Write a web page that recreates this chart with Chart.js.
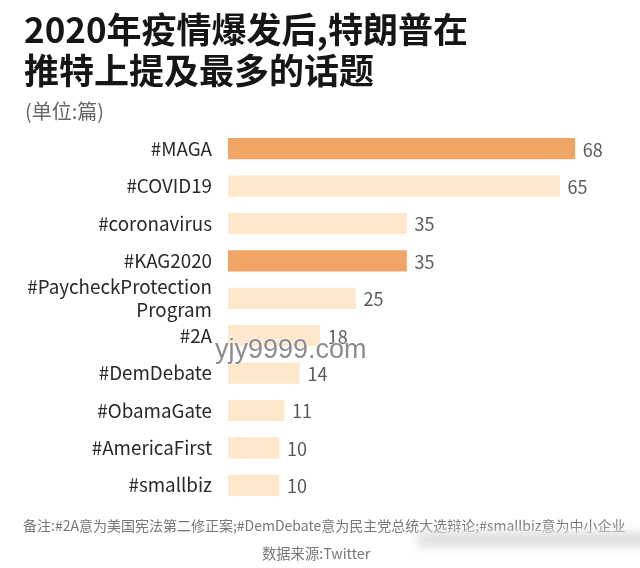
<!DOCTYPE html>
<html lang="zh">
<head>
<meta charset="utf-8">
<script src="https://cdn.jsdelivr.net/npm/chart.js@4/dist/chart.umd.min.js"></script>
<style>
html,body{margin:0;padding:0;background:#fff;}
#wrap{position:relative;width:640px;height:568px;overflow:hidden;font-family:"Noto Sans CJK SC","Noto Sans",sans-serif;}
#c{position:absolute;left:0;top:0;}
.t{position:absolute;white-space:nowrap;}
#title{left:24px;top:7px;font-size:35px;line-height:41px;font-weight:700;color:#161616;}
#unit{left:25px;top:98px;font-size:20px;line-height:26px;color:#666;}
#note{left:23px;top:514px;font-size:14px;line-height:22px;color:#777;}
#source{left:262px;top:542px;font-size:14.3px;line-height:22px;color:#777;}
#mark{left:215px;top:331px;font-family:"Liberation Sans",sans-serif;font-size:27px;line-height:36px;color:#8c8c8c;text-shadow:0 0 2px #fff,0 0 2px #fff;}
#smudge{position:absolute;left:418px;top:531px;width:235px;height:16px;background:#e2e2e2;filter:blur(4px);}
</style>
</head>
<body>
<div id="wrap">
<canvas id="c" width="640" height="568"></canvas>
<div class="t" id="title">2020年疫情爆发后,特朗普在<br>推特上提及最多的话题</div>
<div class="t" id="unit">(单位:篇)</div>
<div class="t" id="note">备注:#2A意为美国宪法第二修正案;#DemDebate意为民主党总统大选辩论;#smallbiz意为中小企业</div>
<div id="smudge"></div>
<div class="t" id="source">数据来源:Twitter</div>
<div class="t" id="mark">yjy9999.com</div>
</div>
<script>
const categories = ["#MAGA","#COVID19","#coronavirus","#KAG2020",["#PaycheckProtection","Program"],"#2A","#DemDebate","#ObamaGate","#AmericaFirst","#smallbiz"];
const values = [68,65,35,35,25,18,14,11,10,10];
const highlighted = ["#MAGA","#KAG2020"];
const strongColor = "#f0a566";
const lightColor = "#fde8cb";
const axisMax = 80;

const valueLabels = {
  id:"valueLabels",
  afterDatasetsDraw(chart){
    const {ctx} = chart;
    const meta = chart.getDatasetMeta(0);
    ctx.save();
    ctx.font = '18px "Noto Sans CJK SC"';
    ctx.fillStyle = "#5a5a5a";
    ctx.textAlign = "left";
    ctx.textBaseline = "middle";
    meta.data.forEach((bar,i)=>ctx.fillText(String(values[i]),bar.x+8,bar.y+1));
    ctx.restore();
  }
};

Chart.defaults.font.family = '"Noto Sans CJK SC"';
new Chart(document.getElementById("c"),{
  type:"bar",
  data:{
    labels:categories,
    datasets:[{
      data:values,
      backgroundColor:categories.map(c=>highlighted.includes(c)?strongColor:lightColor),
      barThickness:20.5,
      borderWidth:0
    }]
  },
  options:{
    indexAxis:"y",
    responsive:false,
    animation:false,
    layout:{padding:{top:130,bottom:64,left:0,right:4}},
    plugins:{legend:{display:false},tooltip:{enabled:false},title:{display:false}},
    scales:{
      x:{display:false,min:0,max:axisMax},
      y:{
        grid:{display:false},
        border:{display:false},
        afterFit(s){s.width=228;},
        ticks:{
          color:"#2a2a2a",
          autoSkip:false,
          font:{size:18.8,lineHeight:1.22},
          padding:8,
          crossAlign:"near"
        }
      }
    }
  },
  plugins:[valueLabels]
});
</script>
</body>
</html>
